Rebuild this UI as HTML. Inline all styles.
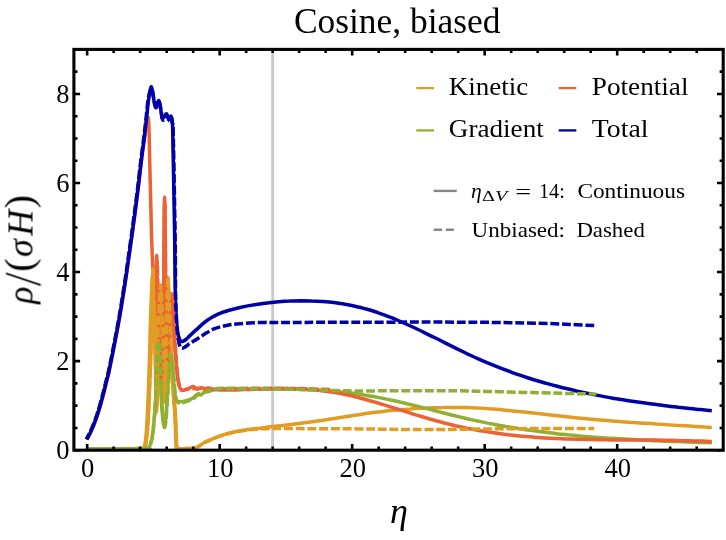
<!DOCTYPE html>
<html><head><meta charset="utf-8"><title>Cosine, biased</title>
<style>html,body{margin:0;padding:0;background:#fff;}body{width:726px;height:540px;overflow:hidden;font-family:"Liberation Serif",serif;}svg{display:block;}</style></head>
<body>
<svg width="726" height="540" viewBox="0 0 726 540">
<rect width="726" height="540" fill="#fff"/>
<defs><clipPath id="c"><rect x="73.9" y="49.4" width="649.3" height="400.8"/></clipPath></defs>
<line x1="272.7" y1="49.4" x2="272.7" y2="450.2" stroke="#cbcbcb" stroke-width="3"/>
<g clip-path="url(#c)">
<path d="M86.9 439.7 C87.5 438.5 89.3 435.5 90.6 432.6 C92.0 429.7 93.5 426.2 95.0 422.3 C96.5 418.3 98.0 413.8 99.5 408.9 C101.0 403.9 102.6 397.8 103.9 392.6 C105.2 387.4 106.7 381.5 107.6 377.8 C108.5 374.1 108.1 376.6 109.4 370.4 C110.7 364.2 113.8 348.8 115.4 340.4 C117.1 331.9 118.0 326.9 119.3 319.7 C120.6 312.5 121.9 304.3 123.0 297.4 C124.1 290.5 125.1 284.4 126.0 278.2 C126.9 272.0 127.5 267.7 128.5 260.4 C129.5 253.1 131.0 243.4 132.2 234.5 C133.4 225.6 134.8 215.0 135.9 206.7 C137.0 198.4 137.8 192.2 138.7 184.5 C139.6 176.8 140.5 168.4 141.5 160.4 C142.5 152.4 143.8 142.8 144.6 136.7 C145.4 130.6 145.7 126.9 146.2 124.0 C146.7 121.1 147.2 120.6 147.6 119.6 C148.0 118.6 148.2 116.1 148.4 118.2 C148.7 120.3 148.9 125.0 149.1 132.0 C149.3 139.0 149.4 149.2 149.7 160.0 C149.9 170.8 150.3 184.7 150.6 197.0 C150.9 209.3 151.2 223.6 151.5 234.1 C151.8 244.6 152.1 253.2 152.4 260.0 C152.7 266.8 152.9 268.3 153.3 275.0 C153.7 281.7 154.2 290.8 154.6 300.0 C154.9 309.2 155.2 330.0 155.4 330.0 C155.6 330.0 155.8 312.5 156.0 300.0 C156.2 287.5 156.4 255.2 156.7 255.2 C157.0 255.2 157.2 284.2 157.6 300.0 C158.0 315.8 158.4 336.7 159.0 350.0 C159.6 363.3 160.3 381.7 161.0 380.0 C161.7 378.3 162.6 353.3 163.0 340.0 C163.4 326.7 163.3 315.0 163.5 300.0 C163.7 285.0 163.8 264.7 163.9 250.0 C164.0 235.3 164.1 220.8 164.2 212.0 C164.3 203.2 164.5 197.0 164.6 197.0 C164.7 197.0 164.9 203.2 165.0 212.0 C165.1 220.8 165.3 235.3 165.4 250.0 C165.5 264.7 165.5 285.0 165.7 300.0 C165.9 315.0 166.1 330.0 166.4 340.0 C166.7 350.0 167.1 361.7 167.5 360.0 C167.9 358.3 168.5 340.0 169.0 330.0 C169.5 320.0 170.1 306.0 170.5 300.0 C170.9 294.0 171.2 293.2 171.5 294.0 C171.8 294.8 172.1 298.2 172.5 305.0 C172.9 311.8 173.4 325.8 174.0 335.0 C174.6 344.2 175.7 355.8 176.0 360.0" fill="none" stroke="#EB6235" stroke-width="3.5" stroke-linejoin="round"/>
<path d="M87.0 448.8 C96.3 448.8 133.1 448.9 142.7 448.6 C152.2 448.3 143.7 449.4 144.3 447.1 C144.9 444.8 145.6 441.2 146.1 435.0 C146.6 428.8 147.0 422.5 147.6 410.0 C148.2 397.5 149.0 373.3 149.4 360.0 C149.8 346.7 149.9 340.0 150.2 330.0 C150.5 320.0 150.8 309.2 151.2 300.0 C151.6 290.8 152.1 275.0 152.5 275.0 C152.9 275.0 153.2 290.8 153.5 300.0 C153.8 309.2 154.2 318.3 154.5 330.0 C154.8 341.7 155.1 356.3 155.4 370.0 C155.7 383.7 155.9 411.2 156.3 412.0 C156.7 412.8 157.1 388.7 157.6 375.0 C158.1 361.3 158.8 341.7 159.2 330.0 C159.6 318.3 159.6 311.7 159.8 305.0 C160.0 298.3 160.4 290.0 160.6 290.0 C160.8 290.0 161.0 298.3 161.2 305.0 C161.4 311.7 161.5 319.2 161.8 330.0 C162.1 340.8 162.7 358.0 163.2 370.0 C163.7 382.0 164.1 401.2 164.6 402.0 C165.1 402.8 165.5 387.0 165.9 375.0 C166.3 363.0 166.7 341.7 167.0 330.0 C167.3 318.3 167.3 312.8 167.5 305.0 C167.7 297.2 168.1 283.0 168.3 283.0 C168.5 283.0 168.6 297.2 168.8 305.0 C169.0 312.8 169.2 322.2 169.5 330.0 C169.8 337.8 170.1 345.0 170.5 352.0 C170.9 359.0 171.4 365.7 171.8 372.0 C172.2 378.3 172.7 385.0 173.0 390.0 C173.3 395.0 173.6 398.1 173.9 402.0 C174.2 405.9 174.4 406.1 174.8 413.3 C175.2 420.5 175.7 439.5 176.1 445.3 C176.5 451.1 175.8 447.8 177.5 448.4 C179.2 448.9 183.4 448.6 186.0 448.6 C188.6 448.6 191.3 448.6 193.0 448.4 C194.7 448.2 194.9 448.1 196.1 447.6 C197.3 447.1 198.6 446.3 200.0 445.4 C201.4 444.5 203.1 443.2 204.8 442.3 C206.5 441.4 207.9 440.9 210.0 440.0 C212.1 439.1 213.9 438.0 217.2 436.8 C220.5 435.6 225.5 434.1 229.6 433.0 C233.7 431.9 237.9 431.1 242.0 430.4 C246.1 429.7 250.4 429.2 254.3 428.7 C258.2 428.2 261.7 427.8 265.5 427.4 C269.2 426.9 272.9 426.5 276.6 426.1 C280.3 425.6 284.1 425.2 287.8 424.8 C291.5 424.3 295.2 423.8 298.9 423.4 C302.7 422.9 306.4 422.4 310.1 421.9 C313.8 421.4 317.5 420.9 321.3 420.4 C325.0 419.8 328.7 419.2 332.4 418.7 C336.1 418.1 339.8 417.5 343.6 417.0 C347.3 416.4 351.0 415.8 354.7 415.2 C358.4 414.7 362.2 414.1 365.9 413.6 C369.6 413.1 373.3 412.6 377.0 412.1 C380.8 411.7 384.5 411.2 388.2 410.8 C391.9 410.4 395.6 410.1 399.4 409.8 C403.1 409.4 406.8 409.1 410.5 408.9 C414.2 408.6 418.0 408.4 421.7 408.2 C425.4 408.0 429.1 407.8 432.8 407.7 C436.6 407.6 440.3 407.5 444.0 407.5 C447.7 407.4 451.4 407.4 455.2 407.4 C458.9 407.5 462.6 407.5 466.3 407.6 C470.0 407.8 473.8 407.9 477.5 408.1 C481.2 408.3 484.9 408.5 488.6 408.8 C492.3 409.0 496.1 409.3 499.8 409.6 C503.5 410.0 507.2 410.3 510.9 410.7 C514.7 411.0 518.4 411.4 522.1 411.8 C525.8 412.2 529.5 412.6 533.3 413.1 C537.0 413.5 540.7 413.9 544.4 414.3 C548.1 414.8 551.9 415.2 555.6 415.6 C559.3 416.0 563.0 416.4 566.7 416.8 C570.5 417.2 574.2 417.6 577.9 418.0 C581.6 418.4 585.3 418.7 589.1 419.1 C592.8 419.4 596.5 419.7 600.2 420.0 C603.9 420.4 607.7 420.6 611.4 420.9 C615.1 421.2 618.8 421.5 622.5 421.8 C626.3 422.0 630.0 422.3 633.7 422.5 C637.4 422.8 641.1 423.0 644.8 423.3 C648.6 423.5 652.3 423.7 656.0 424.0 C659.7 424.2 663.4 424.4 667.2 424.7 C670.9 424.9 674.6 425.1 678.3 425.4 C682.0 425.6 685.8 425.8 689.5 426.1 C693.2 426.3 696.9 426.6 700.6 426.8 C704.4 427.1 709.9 427.5 711.8 427.6" fill="none" stroke="#E19C24" stroke-width="3.5" stroke-linejoin="round"/>
<path d="M145.1 447.1 C145.4 445.1 146.4 441.2 147.0 435.0 C147.6 428.8 148.0 422.5 148.6 410.0 C149.2 397.5 150.1 373.3 150.6 360.0 C151.1 346.7 151.3 340.0 151.6 330.0 C151.9 320.0 152.1 310.2 152.3 300.0 C152.5 289.8 152.8 269.0 153.0 269.0 C153.2 269.0 153.5 289.8 153.8 300.0 C154.1 310.2 154.6 318.3 155.0 330.0 C155.4 341.7 155.7 357.3 156.0 370.0 C156.3 382.7 156.7 406.0 157.0 406.0 C157.3 406.0 157.5 382.7 157.7 370.0 C157.9 357.3 157.8 340.8 158.0 330.0 C158.2 319.2 158.8 312.5 159.2 305.0 C159.6 297.5 160.1 285.0 160.5 285.0 C160.9 285.0 161.4 297.5 161.8 305.0 C162.2 312.5 162.6 319.2 163.0 330.0 C163.4 340.8 163.8 359.2 164.2 370.0 C164.6 380.8 164.9 395.0 165.2 395.0 C165.5 395.0 165.7 380.8 165.9 370.0 C166.1 359.2 166.1 341.7 166.3 330.0 C166.5 318.3 166.9 308.8 167.2 300.0 C167.5 291.2 167.7 277.5 168.0 277.5 C168.3 277.5 168.6 292.1 169.0 300.0 C169.4 307.9 169.8 316.7 170.2 325.0 C170.6 333.3 170.9 342.2 171.3 350.0 C171.7 357.8 172.1 365.3 172.5 372.0 C172.9 378.7 173.3 385.0 173.6 390.0 C173.9 395.0 174.1 398.1 174.4 402.0 C174.7 405.9 174.9 406.1 175.3 413.3 C175.7 420.5 176.2 439.5 176.6 445.3 C177.0 451.1 177.8 447.9 178.0 448.4" fill="none" stroke="#E19C24" stroke-width="3.5" stroke-linejoin="round"/>
<path d="M87.0 448.8 C96.7 448.8 134.9 448.7 145.0 448.6 C155.1 448.5 146.9 448.8 147.8 448.0 C148.7 447.2 149.6 446.8 150.5 444.0 C151.4 441.2 152.2 439.2 153.1 431.1 C154.0 423.0 155.2 407.5 155.8 395.6 C156.4 383.8 156.4 368.4 156.7 360.0 C157.0 351.6 157.4 348.3 157.7 345.0 C158.0 341.7 158.4 339.8 158.7 340.3 C159.0 340.8 159.2 338.8 159.6 348.0 C160.0 357.2 160.6 383.9 161.1 395.6 C161.6 407.3 162.2 412.7 162.7 418.0 C163.2 423.3 163.8 427.6 164.3 427.6 C164.8 427.6 165.3 423.3 165.8 418.0 C166.3 412.7 166.7 405.3 167.3 395.6 C167.9 385.9 168.9 367.0 169.5 360.0 C170.1 353.0 170.3 353.7 170.7 353.7 C171.1 353.7 171.6 356.0 172.0 360.0 C172.4 364.0 173.0 372.7 173.4 377.8 C173.8 382.9 174.1 387.2 174.5 390.6 C174.9 394.1 175.4 396.6 176.0 398.5 C176.6 400.4 176.8 401.3 178.2 401.7 C179.6 402.1 182.1 401.6 184.4 401.1 C186.7 400.6 190.1 399.4 191.8 398.6 C193.6 397.8 194.0 396.9 194.9 396.2 C195.8 395.4 196.7 394.3 197.4 394.1 C198.1 393.9 198.7 394.7 199.3 394.8 C199.9 394.9 200.2 395.4 201.1 394.9 C202.0 394.4 203.7 392.3 204.8 391.8 C205.9 391.3 206.8 392.1 207.9 391.8 C209.1 391.6 210.1 390.7 211.7 390.3 C213.2 389.9 214.2 389.6 217.2 389.3 C220.2 389.0 225.7 388.8 229.6 388.7 C233.5 388.6 237.1 388.8 240.8 388.8 C244.6 388.9 248.3 388.9 252.0 388.9 C255.8 388.9 259.5 388.9 263.2 388.9 C267.0 389.0 270.7 389.0 274.5 389.0 C278.2 389.0 281.9 389.0 285.7 389.1 C289.4 389.1 293.1 389.2 296.9 389.3 C300.6 389.4 304.4 389.5 308.1 389.6 C311.8 389.8 315.6 389.9 319.3 390.2 C323.0 390.4 326.8 390.6 330.5 390.9 C334.3 391.2 338.0 391.6 341.7 392.0 C345.5 392.4 349.2 392.8 353.0 393.3 C356.7 393.8 360.4 394.3 364.2 394.9 C367.9 395.5 371.6 396.2 375.4 396.9 C379.1 397.5 382.9 398.3 386.6 399.1 C390.3 399.8 394.1 400.7 397.8 401.5 C401.5 402.4 405.3 403.3 409.0 404.2 C412.8 405.1 416.5 406.0 420.2 406.9 C424.0 407.9 427.7 408.8 431.5 409.8 C435.2 410.7 438.9 411.7 442.7 412.7 C446.4 413.6 450.1 414.6 453.9 415.5 C457.6 416.4 461.4 417.3 465.1 418.2 C468.8 419.1 472.6 419.9 476.3 420.7 C480.0 421.5 483.8 422.3 487.5 423.1 C491.3 423.8 495.0 424.5 498.7 425.2 C502.5 425.9 506.2 426.6 509.9 427.2 C513.7 427.8 517.4 428.4 521.2 429.0 C524.9 429.6 528.6 430.1 532.4 430.6 C536.1 431.1 539.9 431.6 543.6 432.1 C547.3 432.6 551.1 433.0 554.8 433.4 C558.5 433.9 562.3 434.3 566.0 434.6 C569.8 435.0 573.5 435.4 577.2 435.7 C581.0 436.1 584.7 436.4 588.4 436.7 C592.2 437.0 595.9 437.3 599.7 437.6 C603.4 437.8 607.1 438.1 610.9 438.3 C614.6 438.6 618.4 438.8 622.1 439.0 C625.8 439.2 629.6 439.4 633.3 439.6 C637.0 439.8 640.8 440.0 644.5 440.2 C648.3 440.4 652.0 440.5 655.7 440.7 C659.5 440.9 663.2 441.0 666.9 441.2 C670.7 441.3 674.4 441.5 678.2 441.6 C681.9 441.7 685.6 441.9 689.4 442.0 C693.1 442.1 696.8 442.3 700.6 442.4 C704.3 442.5 709.9 442.7 711.8 442.8" fill="none" stroke="#8FB032" stroke-width="3.5" stroke-linejoin="round"/>
<path d="M172.5 305.0 C172.8 310.0 173.4 325.8 174.0 335.0 C174.6 344.2 175.5 353.8 176.0 360.0 C176.5 366.2 176.5 367.9 177.0 372.0 C177.5 376.1 178.2 381.6 178.8 384.4 C179.4 387.2 179.9 388.0 180.5 389.0 C181.1 390.0 181.2 390.7 182.5 390.6 C183.8 390.6 186.3 389.4 188.1 388.7 C189.9 388.0 191.9 386.7 193.1 386.6 C194.3 386.5 194.6 387.6 195.3 388.0 C196.0 388.4 196.7 389.3 197.4 389.3 C198.1 389.3 198.7 388.5 199.3 388.2 C199.9 387.9 200.5 387.5 201.1 387.5 C201.7 387.5 202.4 388.1 203.0 388.4 C203.6 388.7 204.2 389.1 204.8 389.1 C205.4 389.1 206.1 388.7 206.7 388.5 C207.3 388.3 207.7 388.0 208.6 388.1 C209.5 388.2 210.0 389.0 212.2 389.3 C214.4 389.6 218.2 389.9 221.6 390.0 C225.0 390.1 229.0 390.0 232.7 389.9 C236.5 389.9 240.2 389.7 243.9 389.6 C247.6 389.5 251.3 389.4 255.0 389.2 C258.7 389.1 262.4 389.0 266.2 388.9 C269.9 388.8 273.6 388.7 277.3 388.6 C281.0 388.6 284.7 388.5 288.4 388.6 C292.2 388.6 295.9 388.7 299.6 388.9 C303.3 389.0 307.0 389.3 310.7 389.6 C314.4 389.9 318.2 390.3 321.9 390.7 C325.6 391.2 329.3 391.7 333.0 392.3 C336.7 392.9 340.4 393.6 344.1 394.3 C347.9 395.1 351.6 395.9 355.3 396.8 C359.0 397.7 362.7 398.7 366.4 399.7 C370.1 400.7 373.9 401.8 377.6 402.9 C381.3 404.0 385.0 405.2 388.7 406.4 C392.4 407.5 396.1 408.7 399.9 409.9 C403.6 411.1 407.3 412.3 411.0 413.4 C414.7 414.6 418.4 415.7 422.1 416.8 C425.9 417.9 429.6 419.0 433.3 420.0 C437.0 421.0 440.7 422.0 444.4 423.0 C448.1 423.9 451.8 424.8 455.6 425.7 C459.3 426.5 463.0 427.3 466.7 428.1 C470.4 428.9 474.1 429.6 477.8 430.2 C481.6 430.9 485.3 431.5 489.0 432.1 C492.7 432.7 496.4 433.2 500.1 433.7 C503.8 434.2 507.5 434.6 511.3 435.1 C515.0 435.5 518.7 435.8 522.4 436.2 C526.1 436.5 529.8 436.8 533.5 437.1 C537.3 437.4 541.0 437.7 544.7 437.9 C548.4 438.1 552.1 438.3 555.8 438.5 C559.5 438.7 563.3 438.8 567.0 439.0 C570.7 439.1 574.4 439.2 578.1 439.3 C581.8 439.4 585.5 439.5 589.2 439.6 C593.0 439.6 596.7 439.7 600.4 439.7 C604.1 439.8 607.8 439.8 611.5 439.9 C615.2 439.9 619.0 439.9 622.7 439.9 C626.4 440.0 630.1 440.0 633.8 440.0 C637.5 440.0 641.2 440.0 645.0 440.1 C648.7 440.1 652.4 440.1 656.1 440.1 C659.8 440.2 663.5 440.2 667.2 440.3 C670.9 440.3 674.7 440.4 678.4 440.5 C682.1 440.5 685.8 440.6 689.5 440.7 C693.2 440.9 696.9 441.0 700.7 441.1 C704.4 441.3 709.9 441.6 711.8 441.6" fill="none" stroke="#EB6235" stroke-width="3.5" stroke-linejoin="round"/>
<path d="M86.8 439.3 C87.4 438.1 89.1 435.1 90.5 432.2 C91.8 429.3 93.4 425.8 94.8 421.9 C96.3 417.9 97.9 413.4 99.3 408.5 C100.8 403.6 102.4 397.4 103.8 392.2 C105.1 387.0 106.5 381.1 107.5 377.4 C108.4 373.7 108.0 376.2 109.2 370.0 C110.5 363.8 113.6 348.4 115.2 340.0 C116.9 331.6 117.9 326.5 119.1 319.3 C120.4 312.1 121.7 303.9 122.8 297.0 C124.0 290.1 124.9 284.0 125.8 277.8 C126.8 271.6 127.3 267.3 128.4 260.0 C129.4 252.7 130.8 243.0 132.1 234.1 C133.3 225.2 134.7 214.6 135.8 206.3 C136.8 198.0 137.6 191.8 138.6 184.1 C139.5 176.4 140.4 168.0 141.4 160.0 C142.3 152.0 143.6 143.5 144.5 136.3 C145.3 129.1 145.9 123.4 146.7 117.0 C147.4 110.6 148.1 102.8 148.9 97.8 C149.6 92.8 150.4 87.2 151.1 86.7 C151.8 86.2 152.3 91.8 153.0 95.0 C153.7 98.2 154.3 104.1 155.0 105.6 C155.7 107.1 156.3 104.8 157.0 104.0 C157.7 103.2 158.3 99.9 158.9 100.6 C159.5 101.3 159.9 105.0 160.5 108.0 C161.1 111.0 161.5 117.0 162.2 118.3 C162.9 119.6 163.8 116.7 164.5 116.0 C165.2 115.3 166.0 113.3 166.7 113.9 C167.4 114.5 168.2 119.0 168.9 119.4 C169.6 119.8 170.6 115.7 171.1 116.1 C171.6 116.5 171.7 118.8 172.0 122.0 C172.3 125.2 172.4 115.3 172.8 135.0 C173.2 154.7 174.3 214.2 174.7 240.0 C175.1 265.8 175.0 278.3 175.2 290.0 C175.4 301.7 175.6 304.5 175.8 310.0 C176.0 315.5 176.3 319.3 176.6 323.0 C176.9 326.7 177.3 329.5 177.7 332.0 C178.1 334.5 178.6 336.4 179.1 337.8 C179.6 339.2 179.9 340.0 180.4 340.6 C180.9 341.2 181.3 341.5 181.8 341.6 C182.3 341.7 182.9 341.4 183.6 341.0 C184.3 340.6 185.0 340.1 185.8 339.5 C186.6 338.9 186.5 338.9 188.3 337.2 C190.1 335.5 193.9 331.9 196.7 329.4 C199.5 326.9 202.2 324.1 205.0 322.0 C207.8 319.9 210.5 318.2 213.3 316.6 C216.1 315.1 218.9 313.8 221.7 312.7 C224.5 311.6 226.9 310.9 230.0 310.0 C233.1 309.1 235.7 308.4 240.0 307.5 C244.3 306.6 251.5 305.3 256.0 304.6 C260.5 303.8 263.4 303.5 267.1 303.0 C270.8 302.6 274.5 302.2 278.2 301.8 C281.9 301.5 285.6 301.2 289.4 301.1 C293.1 300.9 296.8 300.8 300.5 300.7 C304.2 300.7 307.9 300.7 311.6 300.9 C315.3 301.0 319.0 301.2 322.7 301.5 C326.4 301.8 330.1 302.1 333.8 302.6 C337.5 303.1 341.2 303.6 344.9 304.3 C348.6 304.9 352.3 305.7 356.1 306.5 C359.8 307.3 363.5 308.3 367.2 309.3 C370.9 310.4 374.6 311.5 378.3 312.8 C382.0 314.1 385.7 315.4 389.4 316.9 C393.1 318.3 396.8 319.9 400.5 321.5 C404.2 323.1 407.9 324.8 411.6 326.5 C415.3 328.2 419.1 330.0 422.8 331.8 C426.5 333.6 430.2 335.4 433.9 337.3 C437.6 339.1 441.3 341.0 445.0 342.9 C448.7 344.7 452.4 346.6 456.1 348.4 C459.8 350.2 463.5 352.0 467.2 353.8 C470.9 355.5 474.6 357.3 478.3 358.9 C482.0 360.6 485.8 362.2 489.5 363.7 C493.2 365.2 496.9 366.7 500.6 368.2 C504.3 369.6 508.0 371.0 511.7 372.3 C515.4 373.6 519.1 374.9 522.8 376.1 C526.5 377.4 530.2 378.6 533.9 379.7 C537.6 380.8 541.3 381.9 545.0 383.0 C548.7 384.0 552.5 385.1 556.2 386.0 C559.9 387.0 563.6 387.9 567.3 388.8 C571.0 389.7 574.7 390.6 578.4 391.4 C582.1 392.2 585.8 393.0 589.5 393.8 C593.2 394.5 596.9 395.2 600.6 395.9 C604.3 396.6 608.0 397.3 611.7 397.9 C615.5 398.6 619.2 399.2 622.9 399.8 C626.6 400.4 630.3 400.9 634.0 401.5 C637.7 402.0 641.4 402.5 645.1 403.0 C648.8 403.6 652.5 404.0 656.2 404.5 C659.9 405.0 663.6 405.4 667.3 405.9 C671.0 406.3 674.7 406.7 678.4 407.2 C682.2 407.6 685.9 408.0 689.6 408.4 C693.3 408.8 697.0 409.2 700.7 409.5 C704.4 409.9 709.9 410.5 711.8 410.7" fill="none" stroke="#0000A8" stroke-width="3.5" stroke-linejoin="round"/>
<path d="M330.0 389.6 C325.0 389.4 311.7 388.8 300.0 388.6 C288.3 388.4 275.0 388.3 260.0 388.3 C245.0 388.3 220.7 388.6 210.0 388.6 C199.3 388.6 199.7 388.4 196.0 388.5 C192.3 388.6 190.1 388.7 188.0 389.0 C185.9 389.3 184.4 390.3 183.2 390.2 C182.0 390.1 181.5 389.7 180.8 388.5 C180.1 387.3 179.5 386.7 178.8 383.1 C178.1 379.5 177.5 375.0 176.8 367.0 C176.1 359.0 175.4 345.3 174.8 335.0 C174.2 324.7 173.7 311.5 173.3 305.0 C172.9 298.5 172.6 296.8 172.3 296.0 C172.0 295.2 171.7 294.3 171.3 300.0 C170.9 305.7 170.4 320.0 169.8 330.0 C169.2 340.0 168.5 358.3 168.0 360.0 C167.5 361.7 167.2 350.0 166.8 340.0 C166.4 330.0 166.0 315.0 165.8 300.0 C165.6 285.0 165.5 264.2 165.4 250.0 C165.3 235.8 165.2 222.8 165.1 215.0 C165.0 207.2 164.9 203.0 164.8 203.0 C164.7 203.0 164.5 207.2 164.4 215.0 C164.3 222.8 164.2 235.8 164.1 250.0 C164.0 264.2 163.9 285.0 163.8 300.0 C163.7 315.0 163.7 326.7 163.3 340.0 C162.9 353.3 162.2 376.7 161.6 380.0 C161.0 383.3 160.4 373.3 159.8 360.0 C159.2 346.7 158.6 316.3 158.2 300.0 C157.8 283.7 157.5 262.0 157.2 262.0 C156.9 262.0 156.5 293.7 156.3 300.0" fill="none" stroke="#EB6235" stroke-width="3.5" stroke-linejoin="round" stroke-dasharray="8.9 2.8" stroke-dashoffset="0.0"/>
<path d="M594.2 428.4 C585.2 428.4 555.7 428.4 540.0 428.5 C524.3 428.6 515.0 428.7 500.0 428.8 C485.0 428.9 466.7 429.3 450.0 429.4 C433.3 429.5 415.0 429.5 400.0 429.4 C385.0 429.3 376.7 429.0 360.0 428.9 C343.3 428.8 314.0 428.7 300.0 428.6 C286.0 428.5 282.0 428.5 276.0 428.5 C270.0 428.5 267.6 428.6 264.0 428.7 C260.4 428.8 258.0 428.9 254.3 429.3 C250.6 429.7 246.1 430.1 242.0 430.8 C237.9 431.5 233.7 432.2 229.6 433.3 C225.5 434.4 220.5 436.0 217.2 437.1 C213.9 438.2 212.1 439.3 210.0 440.2 C207.9 441.1 206.5 441.5 204.8 442.4 C203.1 443.3 201.4 444.8 200.0 445.7 C198.6 446.6 197.3 447.4 196.1 447.8 C194.9 448.2 194.7 448.3 193.0 448.4 C191.3 448.5 188.5 448.6 186.0 448.6 C183.5 448.6 179.6 448.9 178.0 448.4 C176.4 447.8 177.0 451.1 176.6 445.3 C176.2 439.5 175.7 420.5 175.3 413.3 C174.9 406.1 174.7 405.9 174.4 402.0 C174.1 398.1 173.9 395.0 173.6 390.0 C173.3 385.0 172.9 378.7 172.5 372.0 C172.1 365.3 171.7 357.8 171.3 350.0 C170.9 342.2 170.6 333.3 170.2 325.0 C169.8 316.7 169.4 307.9 169.0 300.0 C168.6 292.1 168.3 277.5 168.0 277.5 C167.7 277.5 167.5 291.2 167.2 300.0 C166.9 308.8 166.5 318.3 166.3 330.0 C166.1 341.7 166.1 359.2 165.9 370.0 C165.7 380.8 165.5 395.0 165.2 395.0 C164.9 395.0 164.6 380.8 164.2 370.0 C163.8 359.2 163.4 340.8 163.0 330.0 C162.6 319.2 162.2 312.5 161.8 305.0 C161.4 297.5 160.9 285.0 160.5 285.0 C160.1 285.0 159.6 297.5 159.2 305.0 C158.8 312.5 158.2 319.2 158.0 330.0 C157.8 340.8 157.9 357.3 157.7 370.0 C157.5 382.7 157.3 406.0 157.0 406.0 C156.7 406.0 156.3 382.7 156.0 370.0 C155.7 357.3 155.4 341.7 155.0 330.0 C154.6 318.3 154.1 310.2 153.8 300.0 C153.5 289.8 153.2 269.0 153.0 269.0 C152.8 269.0 152.5 289.8 152.3 300.0 C152.1 310.2 151.9 320.0 151.6 330.0 C151.3 340.0 151.1 346.7 150.6 360.0 C150.1 373.3 149.2 397.5 148.6 410.0 C148.0 422.5 147.6 428.8 147.0 435.0 C146.4 441.2 145.4 445.1 145.1 447.1" fill="none" stroke="#E19C24" stroke-width="3.5" stroke-linejoin="round" stroke-dasharray="8.9 2.8" stroke-dashoffset="3.0"/>
<path d="M594.2 394.0 C593.4 394.0 598.6 394.1 589.6 393.9 C580.6 393.7 550.9 393.1 540.0 392.8 C529.1 392.6 533.1 392.6 524.3 392.4 C515.5 392.2 499.6 391.7 487.2 391.4 C474.8 391.1 471.2 390.9 450.0 390.8 C428.8 390.7 377.6 390.9 360.0 390.9 C342.4 390.9 351.0 390.8 344.3 390.7 C337.6 390.6 327.9 390.4 319.6 390.2 C311.4 390.0 303.1 389.5 294.8 389.3 C286.5 389.1 276.8 389.1 270.0 389.0 C263.2 388.9 262.4 388.8 254.3 388.7 C246.2 388.6 228.2 388.5 221.6 388.6 C215.0 388.7 216.9 388.9 215.0 389.2 C213.1 389.5 212.0 389.6 210.0 390.2 C208.0 390.8 205.0 391.9 203.0 392.6 C201.0 393.3 199.7 393.4 198.0 394.5 C196.3 395.6 194.7 397.8 192.6 399.0 C190.5 400.2 187.5 401.1 185.4 401.8 C183.3 402.5 181.5 403.2 180.2 403.2 C178.9 403.2 178.2 403.0 177.4 402.0 C176.6 401.0 176.2 400.8 175.6 397.0 C175.0 393.2 174.5 385.0 174.0 379.0 C173.5 373.0 172.9 365.0 172.4 361.0 C171.9 357.0 171.5 355.0 171.1 355.0 C170.7 355.0 170.5 354.2 169.9 361.0 C169.3 367.8 168.3 386.1 167.7 395.6 C167.1 405.1 166.7 412.7 166.2 418.0 C165.7 423.3 165.2 427.6 164.7 427.6 C164.2 427.6 163.6 423.3 163.1 418.0 C162.6 412.7 162.0 407.1 161.5 395.6 C161.0 384.1 160.3 357.9 159.9 349.0 C159.5 340.1 159.3 342.7 158.9 342.0 C158.5 341.3 158.1 342.0 157.7 345.0 C157.3 348.0 157.0 351.6 156.7 360.0 C156.4 368.4 156.4 383.8 155.8 395.6 C155.2 407.5 154.0 423.0 153.1 431.1 C152.2 439.2 151.4 441.2 150.5 444.0 C149.6 446.8 148.7 447.2 147.8 448.0 C146.9 448.8 155.1 448.5 145.0 448.6 C134.9 448.7 96.7 448.8 87.0 448.8" fill="none" stroke="#8FB032" stroke-width="3.5" stroke-linejoin="round" stroke-dasharray="8.9 2.8" stroke-dashoffset="1.7"/>
<path d="M594.2 325.6 C590.2 325.4 579.0 324.8 570.0 324.4 C561.0 324.0 553.0 323.6 540.0 323.3 C527.0 323.0 510.3 322.6 492.0 322.4 C473.7 322.2 455.3 322.1 430.0 322.1 C404.7 322.1 365.4 322.2 340.0 322.3 C314.6 322.4 289.8 322.4 277.3 322.4 C264.8 322.4 269.0 322.3 264.9 322.4 C260.8 322.5 256.6 322.6 252.5 322.8 C248.3 323.0 243.8 323.4 240.0 323.7 C236.2 324.0 233.1 324.3 230.0 324.8 C226.9 325.3 224.5 325.8 221.7 326.5 C218.9 327.2 216.1 328.0 213.3 329.2 C210.5 330.4 207.8 332.1 205.0 333.8 C202.2 335.5 199.2 337.6 196.7 339.2 C194.2 340.8 191.7 342.2 190.0 343.3 C188.3 344.4 187.5 345.3 186.5 346.0 C185.5 346.7 184.6 347.2 183.8 347.6 C183.0 348.0 182.3 348.5 181.6 348.2 C180.9 347.9 180.3 347.2 179.8 345.8 C179.3 344.4 178.8 342.6 178.4 340.0 C178.0 337.4 177.5 334.2 177.2 330.0 C176.8 325.8 176.6 320.8 176.3 315.0 C176.0 309.2 175.8 307.2 175.6 295.0 C175.4 282.8 175.6 268.0 175.2 241.6 C174.8 215.2 173.8 156.3 173.3 136.6 C172.9 116.9 172.8 126.8 172.5 123.6 C172.2 120.4 172.1 118.1 171.6 117.7 C171.1 117.3 170.1 121.4 169.4 121.0 C168.7 120.6 167.9 116.1 167.2 115.5 C166.5 114.9 165.8 116.9 165.0 117.6 C164.2 118.3 163.4 121.2 162.7 119.9 C162.0 118.6 161.6 112.5 161.0 109.6 C160.4 106.6 160.0 102.9 159.4 102.2 C158.8 101.5 158.2 104.8 157.5 105.6 C156.8 106.4 156.2 108.7 155.5 107.2 C154.8 105.7 154.2 99.8 153.5 96.6 C152.8 93.4 152.4 88.1 151.6 88.3 C150.8 88.5 149.3 93.0 148.4 97.7 C147.5 102.5 146.9 110.5 146.2 116.9 C145.5 123.3 144.9 129.1 144.0 136.2 C143.1 143.4 141.9 152.0 140.9 159.9 C139.9 167.9 139.0 176.3 138.1 184.0 C137.2 191.7 136.4 197.9 135.3 206.2 C134.2 214.6 132.8 225.1 131.6 234.0 C130.4 243.0 128.9 252.6 127.9 259.9 C126.9 267.2 126.3 271.6 125.4 277.7 C124.5 283.9 123.5 290.0 122.4 296.9 C121.3 303.8 120.0 312.1 118.7 319.2 C117.4 326.4 116.4 331.5 114.8 339.9 C113.2 348.4 110.1 363.7 108.8 369.9 C107.5 376.2 107.9 373.6 107.0 377.3 C106.1 381.0 104.7 386.9 103.3 392.1 C101.9 397.3 100.4 403.5 98.9 408.4 C97.4 413.4 95.9 417.9 94.4 421.8 C92.9 425.8 91.3 429.2 90.0 432.1 C88.7 435.0 86.9 438.0 86.3 439.2" fill="none" stroke="#0000A8" stroke-width="3.5" stroke-linejoin="round" stroke-dasharray="8.9 2.8" stroke-dashoffset="0.0"/>
</g>
<path d="M87.15 450.20 v-6.20 M87.15 49.40 v6.20 M113.65 450.20 v-3.60 M113.65 49.40 v3.60 M140.16 450.20 v-3.60 M140.16 49.40 v3.60 M166.66 450.20 v-3.60 M166.66 49.40 v3.60 M193.16 450.20 v-3.60 M193.16 49.40 v3.60 M219.66 450.20 v-6.20 M219.66 49.40 v6.20 M246.16 450.20 v-3.60 M246.16 49.40 v3.60 M272.67 450.20 v-3.60 M272.67 49.40 v3.60 M299.17 450.20 v-3.60 M299.17 49.40 v3.60 M325.67 450.20 v-3.60 M325.67 49.40 v3.60 M352.17 450.20 v-6.20 M352.17 49.40 v6.20 M378.67 450.20 v-3.60 M378.67 49.40 v3.60 M405.18 450.20 v-3.60 M405.18 49.40 v3.60 M431.68 450.20 v-3.60 M431.68 49.40 v3.60 M458.18 450.20 v-3.60 M458.18 49.40 v3.60 M484.68 450.20 v-6.20 M484.68 49.40 v6.20 M511.18 450.20 v-3.60 M511.18 49.40 v3.60 M537.69 450.20 v-3.60 M537.69 49.40 v3.60 M564.19 450.20 v-3.60 M564.19 49.40 v3.60 M590.69 450.20 v-3.60 M590.69 49.40 v3.60 M617.19 450.20 v-6.20 M617.19 49.40 v6.20 M643.69 450.20 v-3.60 M643.69 49.40 v3.60 M670.20 450.20 v-3.60 M670.20 49.40 v3.60 M696.70 450.20 v-3.60 M696.70 49.40 v3.60 M73.90 450.20 h6.20 M723.20 450.20 h-6.20 M73.90 427.93 h3.60 M723.20 427.93 h-3.60 M73.90 405.67 h3.60 M723.20 405.67 h-3.60 M73.90 383.40 h3.60 M723.20 383.40 h-3.60 M73.90 361.13 h6.20 M723.20 361.13 h-6.20 M73.90 338.87 h3.60 M723.20 338.87 h-3.60 M73.90 316.60 h3.60 M723.20 316.60 h-3.60 M73.90 294.33 h3.60 M723.20 294.33 h-3.60 M73.90 272.07 h6.20 M723.20 272.07 h-6.20 M73.90 249.80 h3.60 M723.20 249.80 h-3.60 M73.90 227.53 h3.60 M723.20 227.53 h-3.60 M73.90 205.27 h3.60 M723.20 205.27 h-3.60 M73.90 183.00 h6.20 M723.20 183.00 h-6.20 M73.90 160.73 h3.60 M723.20 160.73 h-3.60 M73.90 138.47 h3.60 M723.20 138.47 h-3.60 M73.90 116.20 h3.60 M723.20 116.20 h-3.60 M73.90 93.93 h6.20 M723.20 93.93 h-6.20 M73.90 71.67 h3.60 M723.20 71.67 h-3.60" stroke="#000" stroke-width="2.6" fill="none"/>
<rect x="73.90" y="49.40" width="649.30" height="400.80" fill="none" stroke="#000" stroke-width="3.1"/>
<g font-family="Liberation Serif, serif" fill="#000" opacity="0.999">
<text x="293.9" y="33.0" font-size="36.0" text-anchor="start" textLength="206.6" lengthAdjust="spacingAndGlyphs" >Cosine, biased</text>
<text x="69.6" y="458.9" font-size="26.5" text-anchor="end" >0</text>
<text x="69.6" y="369.8" font-size="26.5" text-anchor="end" >2</text>
<text x="69.6" y="280.8" font-size="26.5" text-anchor="end" >4</text>
<text x="69.6" y="191.7" font-size="26.5" text-anchor="end" >6</text>
<text x="69.6" y="102.6" font-size="26.5" text-anchor="end" >8</text>
<text x="87.7" y="477.2" font-size="26.5" text-anchor="middle" >0</text>
<text x="220.2" y="477.2" font-size="26.5" text-anchor="middle" >10</text>
<text x="352.7" y="477.2" font-size="26.5" text-anchor="middle" >20</text>
<text x="485.2" y="477.2" font-size="26.5" text-anchor="middle" >30</text>
<text x="617.7" y="477.2" font-size="26.5" text-anchor="middle" >40</text>
<text x="399.0" y="522.8" font-size="36.0" text-anchor="middle" font-style="italic">η</text>
<g transform="translate(32.5 304.3) rotate(-90)"><text x="0.5" y="0" font-size="36" font-style="italic">ρ</text><line x1="19.2" y1="8.2" x2="30.9" y2="-26.5" stroke="#000" stroke-width="1.8"/><text x="32.6" y="0.3" font-size="40">(</text><text x="47.2" y="0" font-size="36" font-style="italic">σ</text><text x="68.6" y="0" font-size="36" font-style="italic">H</text><text x="95.9" y="0.3" font-size="40">)</text></g>
<text x="448.8" y="95.0" font-size="26.0" text-anchor="start" textLength="79.5" lengthAdjust="spacingAndGlyphs" >Kinetic</text>
<text x="591.8" y="95.0" font-size="26.0" text-anchor="start" textLength="96.7" lengthAdjust="spacingAndGlyphs" >Potential</text>
<text x="448.8" y="136.9" font-size="26.0" text-anchor="start" textLength="95.0" lengthAdjust="spacingAndGlyphs" >Gradient</text>
<text x="591.8" y="136.9" font-size="26.0" text-anchor="start" textLength="56.7" lengthAdjust="spacingAndGlyphs" >Total</text>
<text x="470.9" y="197.5" font-size="21.5"><tspan font-style="italic">η</tspan></text><text x="482.0" y="200.6" font-size="14.5" textLength="25.2" lengthAdjust="spacingAndGlyphs">Δ<tspan font-style="italic">V</tspan></text>
<text x="515.3" y="198.6" font-size="21.5" text-anchor="start" textLength="16.0" lengthAdjust="spacingAndGlyphs" >=</text>
<text x="538.9" y="197.5" font-size="21.5" text-anchor="start" textLength="26.0" lengthAdjust="spacingAndGlyphs" >14:</text>
<text x="577.4" y="197.6" font-size="21.5" text-anchor="start" textLength="107.6" lengthAdjust="spacingAndGlyphs" >Continuous</text>
<text x="471.6" y="236.6" font-size="21.5" text-anchor="start" textLength="93.4" lengthAdjust="spacingAndGlyphs" >Unbiased:</text>
<text x="576.4" y="236.6" font-size="21.5" text-anchor="start" textLength="68.4" lengthAdjust="spacingAndGlyphs" >Dashed</text>
</g>
<line x1="416.3" y1="88.1" x2="434.1" y2="88.1" stroke="#E19C24" stroke-width="2.3"/>
<line x1="558.7" y1="88.1" x2="576.3" y2="88.1" stroke="#EB6235" stroke-width="2.3"/>
<line x1="416.3" y1="130.4" x2="434.1" y2="130.4" stroke="#8FB032" stroke-width="2.3"/>
<line x1="558.7" y1="130.4" x2="576.3" y2="130.4" stroke="#0000A8" stroke-width="2.3"/>
<line x1="433.7" y1="190.9" x2="456.8" y2="190.9" stroke="#868686" stroke-width="2.4"/>
<line x1="433.7" y1="229.8" x2="453.9" y2="229.8" stroke="#868686" stroke-width="2.4" stroke-dasharray="8.3 3.8"/>
</svg>
</body></html>
